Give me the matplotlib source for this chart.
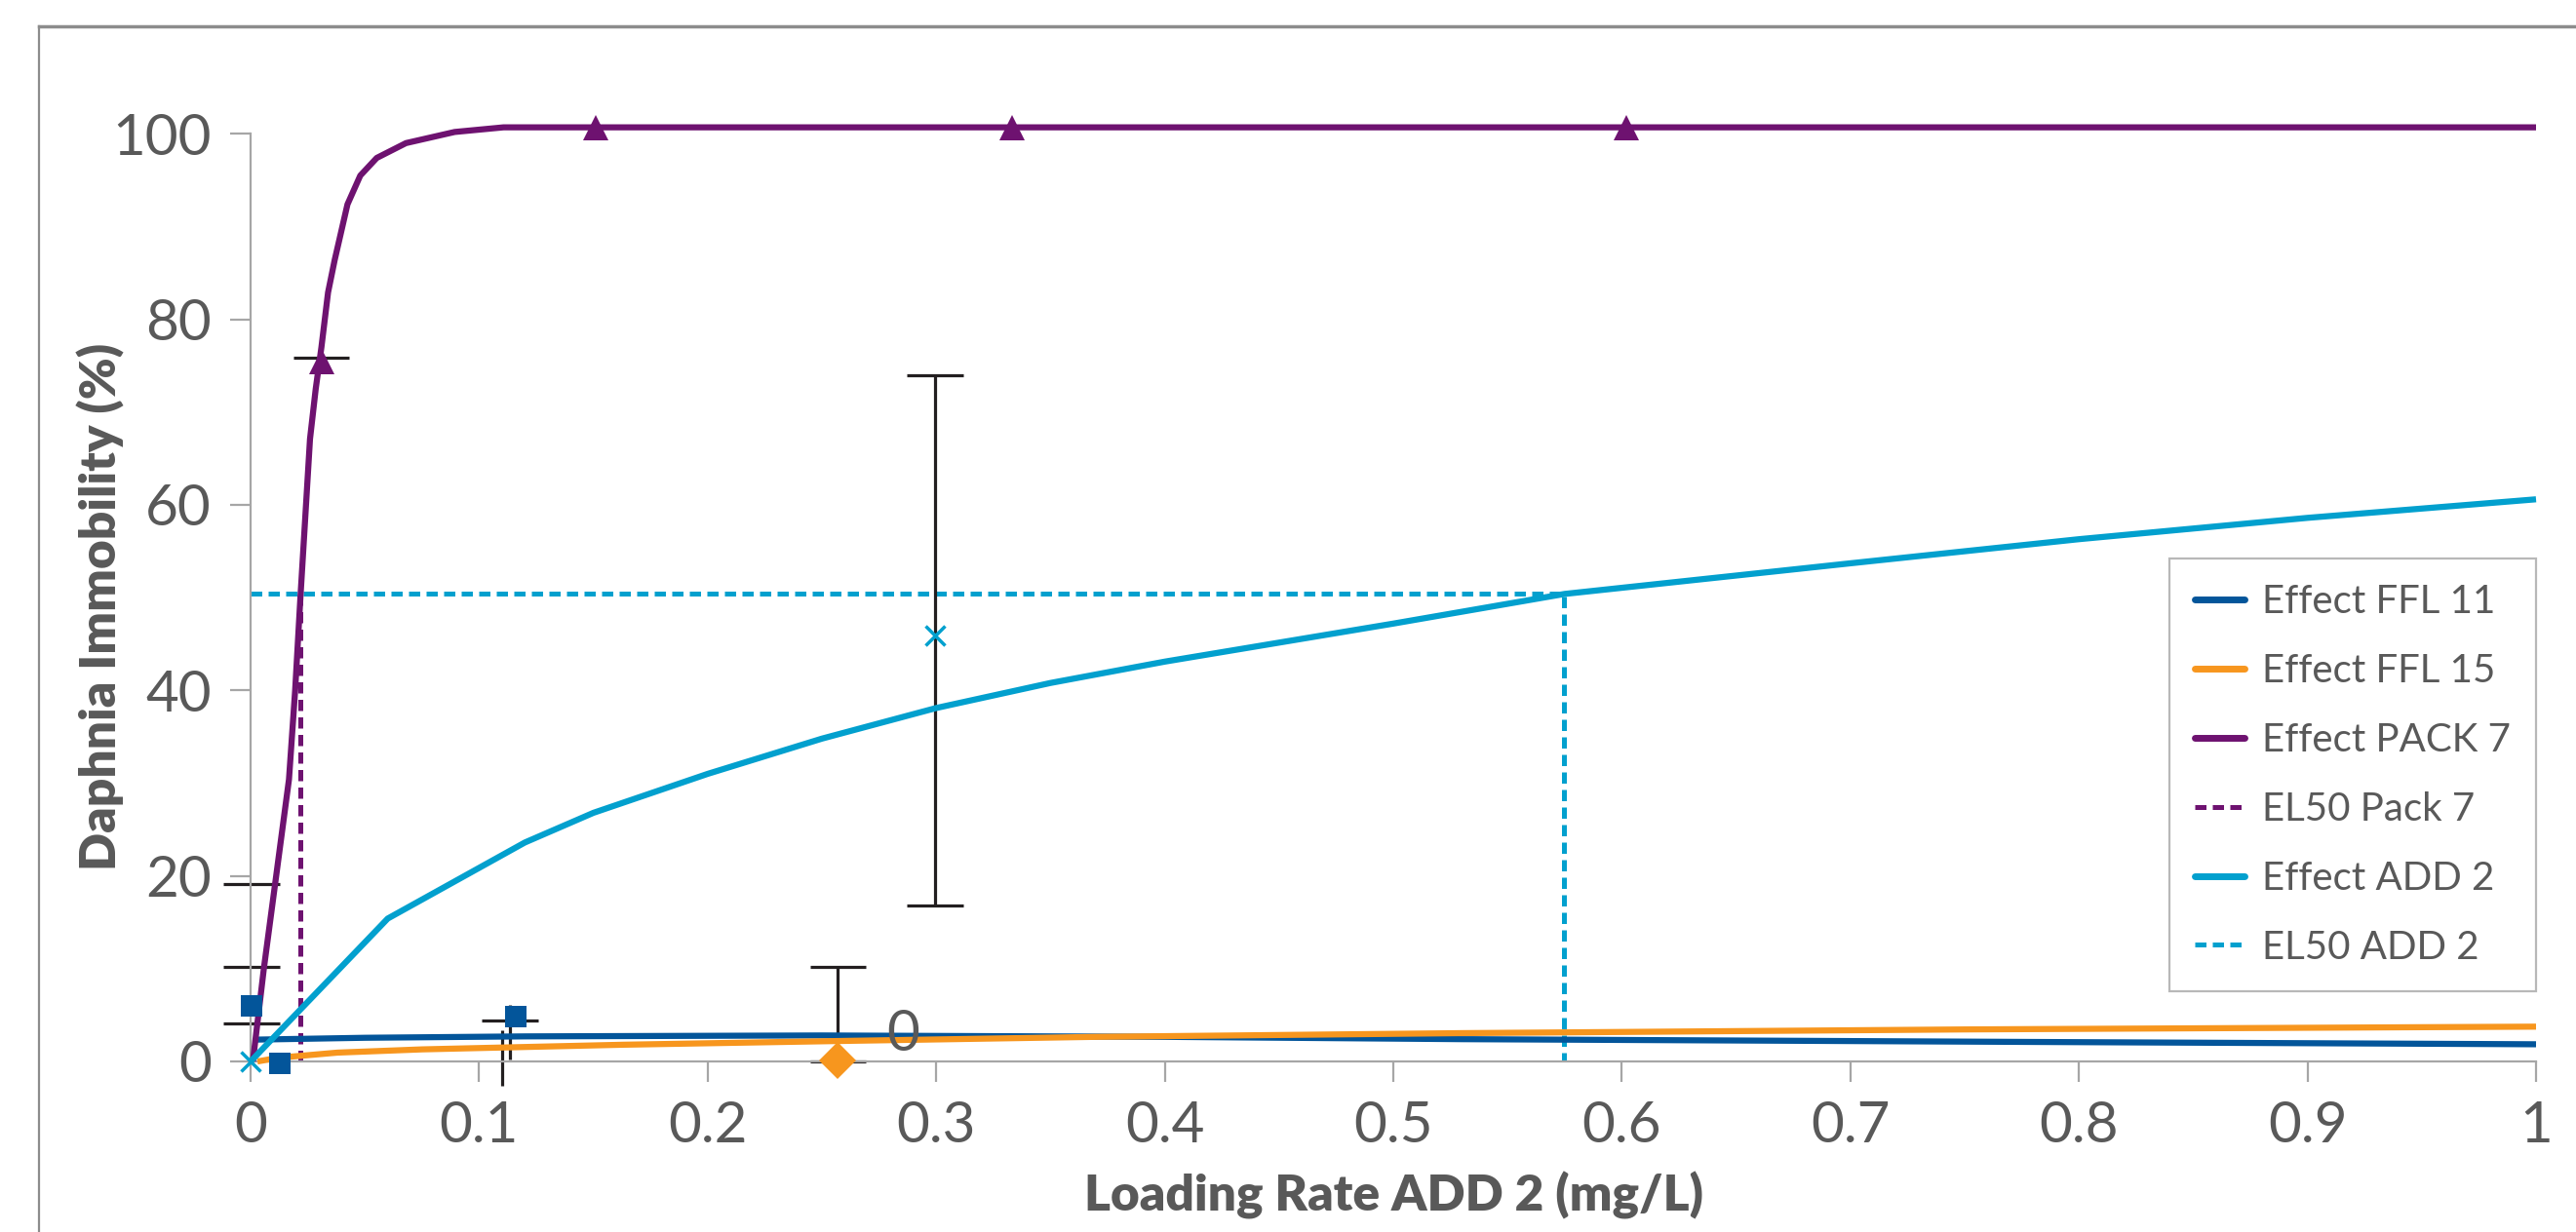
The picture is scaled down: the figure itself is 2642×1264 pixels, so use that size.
"""
daphnia immobility vs loading rate - effect curves with EL50 markers
"""

import matplotlib
matplotlib.use("Agg")
import matplotlib.pyplot as plt
from matplotlib.lines import Line2D

# --- data ---
# Effect curves (x = loading rate, y = immobility %)
ffl11_x = [0.002, 0.05, 0.12, 0.25, 0.4, 0.53, 0.78, 1.0]
ffl11_y = [2.35, 2.55, 2.7, 2.8, 2.65, 2.4, 2.1, 1.85]

ffl15_x = [0.003, 0.01, 0.017, 0.038, 0.075, 0.163, 0.257, 0.37, 0.53, 0.75, 1.0]
ffl15_y = [0.0, 0.3, 0.5, 0.95, 1.3, 1.8, 2.2, 2.65, 3.05, 3.45, 3.75]

pack7_x = [0.001, 0.0058, 0.0112, 0.0168, 0.0195, 0.0218, 0.026, 0.0285, 0.031,
           0.0339, 0.0368, 0.0424, 0.048, 0.0552, 0.068, 0.0893, 0.1107, 1.0]
pack7_y = [0.0, 10.0, 20.0, 30.4, 40.0, 50.0, 67.1, 72.5, 77.0,
           82.9, 86.4, 92.4, 95.5, 97.4, 99.0, 100.2, 100.7, 100.7]

add2_x = [0.0, 0.06, 0.12, 0.15, 0.2, 0.25, 0.3, 0.35, 0.4, 0.5, 0.575, 0.7, 0.8, 0.9, 1.0]
add2_y = [0.0, 15.4, 23.6, 26.8, 31.0, 34.8, 38.1, 40.8, 43.1, 47.2, 50.4, 53.7, 56.3, 58.6, 60.6]

# EL50 values
el50_pack7 = (0.0218, 50.0)
el50_add2 = (0.5747, 50.4)

# measured points
ffl11_pts_x = [0.0003, 0.0127, 0.116]
ffl11_pts_y = [6.0, -0.2, 4.85]
ffl15_pts_x = [0.257]
ffl15_pts_y = [0.1]
pack7_pts_x = [0.031, 0.151, 0.333, 0.602]
pack7_pts_y = [75.4, 100.7, 100.7, 100.7]
add2_pts_x = [0.0, 0.2995]
add2_pts_y = [0.0, 45.9]

# error bars: vertical segments and caps
err_x = [0.2995, 0.257, 0.1135, 0.110]
err_lo = [16.8, 0.0, 0.2, -2.6]
err_hi = [74.0, 10.2, 6.1, 3.4]
cap_x = [0.2995, 0.2995, 0.257, 0.257, 0.1135, 0.031, 0.0003, 0.0003, 0.0003]
cap_y = [74.0, 16.8, 10.2, 0.0, 4.45, 75.9, 19.1, 10.2, 4.1]

data_label = "0"

x_ticks = [0, 0.1, 0.2, 0.3, 0.4, 0.5, 0.6, 0.7, 0.8, 0.9, 1.0]
x_tick_labels = ["0", "0.1", "0.2", "0.3", "0.4", "0.5", "0.6", "0.7", "0.8", "0.9", "1"]
y_ticks = [0, 20, 40, 60, 80, 100]

# --- colours ---
BLUE = "#03559A"
ORANGE = "#F7961E"
PURPLE = "#6E1270"
CYAN = "#02A0CE"
GRAY_TXT = "#595959"
AXIS_GRAY = "#A6A6A6"
ERR = "#231F20"

plt.rcParams["font.family"] = ["Lato", "DejaVu Sans"]

fig = plt.figure(figsize=(26.42, 12.64), dpi=100)
W, H = 2642, 1264
ax = fig.add_axes([257 / W, 175 / H, 2344 / W, 951.7 / H])

lw = 4.5
dash_lw = 3.6
dash_pat = (2.3, 1.3)

# EL50 dashed guides
ax.plot([el50_pack7[0], el50_pack7[0]], [0, el50_pack7[1]], color=PURPLE, lw=dash_lw,
        dashes=dash_pat, clip_on=False, zorder=3)
ax.plot([0, el50_add2[0], el50_add2[0]], [el50_add2[1], el50_add2[1], 0], color=CYAN,
        lw=dash_lw, dashes=dash_pat, clip_on=False, zorder=3)

# error bars
ax.vlines(err_x, err_lo, err_hi, colors=ERR, lw=2.3, zorder=4, clip_on=False)
cap_half = 0.0123
ax.hlines(cap_y, [c - cap_half for c in cap_x], [c + cap_half for c in cap_x],
          colors=ERR, lw=2.3, zorder=4, clip_on=False)

# effect curves
ax.plot(ffl11_x, ffl11_y, color=BLUE, lw=lw, solid_capstyle="butt", zorder=5, clip_on=False)
ax.plot(ffl15_x, ffl15_y, color=ORANGE, lw=lw, solid_capstyle="butt", zorder=5, clip_on=False)
ax.plot(pack7_x, pack7_y, color=PURPLE, lw=lw, solid_capstyle="butt", solid_joinstyle="round",
        zorder=5, clip_on=False)
ax.plot(add2_x, add2_y, color=CYAN, lw=lw, solid_capstyle="butt", solid_joinstyle="round",
        zorder=5, clip_on=False)

# measured points
ax.plot(ffl11_pts_x, ffl11_pts_y, "s", color=BLUE, ms=16, mew=0, zorder=6, clip_on=False)
ax.plot(ffl15_pts_x, ffl15_pts_y, "D", color=ORANGE, ms=19, mew=0, zorder=6, clip_on=False)
ax.plot(pack7_pts_x, pack7_pts_y, "^", color=PURPLE, ms=19, mew=0, zorder=6, clip_on=False)
ax.plot(add2_pts_x, add2_pts_y, "x", color=CYAN, ms=14, mew=2.5, zorder=6, clip_on=False)

ax.annotate(data_label, (ffl15_pts_x[0], ffl15_pts_y[0]), xytext=(48, 19),
            textcoords="offset points", ha="center", va="center",
            fontsize=42, color=GRAY_TXT, zorder=7)

# axes styling
ax.set_xlim(0, 1)
ax.set_ylim(0, 100)
ax.set_xticks(x_ticks)
ax.set_xticklabels(x_tick_labels)
ax.set_yticks(y_ticks)
for side in ["top", "right"]:
    ax.spines[side].set_visible(False)
for side in ["left", "bottom"]:
    ax.spines[side].set_color(AXIS_GRAY)
    ax.spines[side].set_linewidth(1.6)
    ax.spines[side].set_zorder(4.5)
ax.tick_params(axis="both", direction="out", length=15, width=1.6, color=AXIS_GRAY,
               labelsize=42, labelcolor=GRAY_TXT, pad=14)
ax.patch.set_alpha(0)

ax.set_xlabel("Loading Rate ADD 2 (mg/L)", fontsize=37, fontweight="heavy",
              color=GRAY_TXT, labelpad=14)
ax.set_ylabel("Daphnia Immobility (%)", fontsize=37, fontweight="heavy",
              color=GRAY_TXT)
ax.yaxis.set_label_coords(-0.055, 0.49)

# legend
handles = [
    Line2D([], [], color=BLUE, lw=5, solid_capstyle="round"),
    Line2D([], [], color=ORANGE, lw=5, solid_capstyle="round"),
    Line2D([], [], color=PURPLE, lw=5, solid_capstyle="round"),
    Line2D([], [], color=PURPLE, lw=dash_lw, dashes=dash_pat),
    Line2D([], [], color=CYAN, lw=5, solid_capstyle="round"),
    Line2D([], [], color=CYAN, lw=dash_lw, dashes=dash_pat),
]
labels = ["Effect FFL 11", "Effect FFL 15", "Effect PACK 7", "EL50 Pack 7",
          "Effect ADD 2", "EL50 ADD 2"]
leg = ax.legend(handles, labels, loc="upper right", bbox_to_anchor=(1.0, 0.542),
                borderaxespad=0, fontsize=29, frameon=True, fancybox=False,
                edgecolor=AXIS_GRAY, handlelength=1.25, handletextpad=0.45,
                labelspacing=0.84, borderpad=0.65, labelcolor=GRAY_TXT)
leg.get_frame().set_linewidth(1.6)
leg.set_zorder(10)

# outer frame (top and left edges visible)
fig.add_artist(Line2D([40 / W, 1.0], [1 - 27 / H, 1 - 27 / H], color="#8C8C8C", lw=2.5))
fig.add_artist(Line2D([40 / W, 40 / W], [0, 1 - 27 / H], color="#8C8C8C", lw=1.6))

fig.savefig("out.png", dpi=100)
